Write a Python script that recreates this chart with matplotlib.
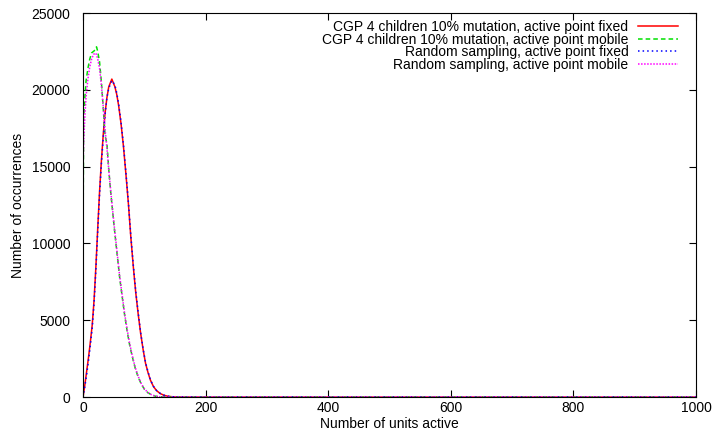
import matplotlib
matplotlib.use("Agg")
import matplotlib.pyplot as plt

# units active (x) and number of occurrences
x_fixed = [0, 3, 6, 9, 12, 15, 18, 21, 24, 27, 30, 33, 36, 39, 42, 45, 47, 49, 52, 55,
           58, 62, 66, 70, 74, 78, 82, 86, 90, 94, 98, 102, 106, 110, 115, 120, 126,
           132, 138, 145, 155, 170, 200, 300, 500, 1000]
cgp_fixed = [0, 800, 1700, 2600, 3600, 4700, 6300, 8500, 11000, 13400, 15400, 17100,
             18500, 19500, 20200, 20500, 20700, 20500, 20200, 19700, 19000, 17800, 16300,
             14500, 12600, 10400, 8500, 6800, 5400, 4150, 3100, 2200, 1600, 1100, 680,
             420, 230, 120, 60, 25, 8, 2, 0, 0, 0, 0]
rnd_fixed = [0, 700, 1500, 2400, 3400, 4500, 6100, 8300, 10800, 13200, 15200, 16900,
             18400, 19500, 20100, 20400, 20600, 20500, 20300, 19800, 19100, 17900, 16400,
             14600, 12700, 10500, 8600, 6900, 5500, 4200, 3150, 2250, 1650, 1120, 700,
             430, 240, 125, 60, 25, 8, 2, 0, 0, 0, 0]

x_mobile = [0, 1, 3, 5, 8, 11, 14, 17, 20, 22, 24, 27, 30, 33, 36, 39, 42, 45, 48, 51,
            54, 57, 60, 64, 68, 72, 76, 80, 85, 90, 95, 100, 106, 112, 118, 125, 135,
            150, 200, 300, 500, 1000]
cgp_mobile = [10000, 18200, 19500, 20600, 21400, 22000, 22400, 22500, 22600, 22800,
              22500, 21800, 20500, 18800, 17000, 16500, 14800, 13400, 12200, 11000,
              9900, 8800, 7700, 6500, 5300, 4300, 3400, 2700, 1900, 1300, 850, 520, 280,
              140, 60, 20, 5, 0, 0, 0, 0, 0]
rnd_mobile = [15000, 16500, 18300, 19600, 20700, 21500, 22000, 22300, 22400, 22300,
              22000, 21400, 20300, 18900, 17400, 16200, 14800, 13500, 12300, 11100,
              10000, 8900, 7800, 6600, 5400, 4400, 3500, 2750, 1950, 1350, 880, 540, 290,
              150, 65, 22, 5, 0, 0, 0, 0, 0]

labels = ["CGP 4 children 10% mutation, active point fixed",
          "CGP 4 children 10% mutation, active point mobile",
          "Random sampling, active point fixed",
          "Random sampling, active point mobile"]

plt.rcParams['font.family'] = ['Liberation Sans', 'DejaVu Sans']

fig = plt.figure(figsize=(7.12, 4.34), dpi=100)
ax = fig.add_axes([0.1166, 0.085, 0.861, 0.885])

ax.plot(x_fixed, cgp_fixed, color='#ff0000', lw=1.1, label=labels[0])
ax.plot(x_mobile, cgp_mobile, color='#00e000', lw=1.1, ls=(0, (3, 2)), label=labels[1])
ax.plot(x_fixed, rnd_fixed, color='#0000ff', lw=1.1, ls=(0, (1, 2)), label=labels[2])
ax.plot(x_mobile, rnd_mobile, color='#ff00ff', lw=1.1, ls=(0, (1, 1)), label=labels[3])

ax.set_xlim(0, 1000)
ax.set_ylim(0, 25000)
ax.set_xticks(range(0, 1001, 200))
ax.set_yticks(range(0, 25001, 5000))
ax.tick_params(direction='in', top=True, right=True, labelsize=10, length=5)
ax.tick_params(axis='y', pad=9)
ax.tick_params(axis='x', pad=3)
ax.set_xlabel('Number of units active', fontsize=10, labelpad=1)
ax.set_ylabel('Number of occurrences', fontsize=10, labelpad=5)

ax.legend(loc='upper right', bbox_to_anchor=(0.971, 0.982), frameon=False,
          markerfirst=False, fontsize=10, handlelength=2.9, handletextpad=0.7,
          labelspacing=-0.1, borderaxespad=0, borderpad=0)

fig.savefig('out.png')
